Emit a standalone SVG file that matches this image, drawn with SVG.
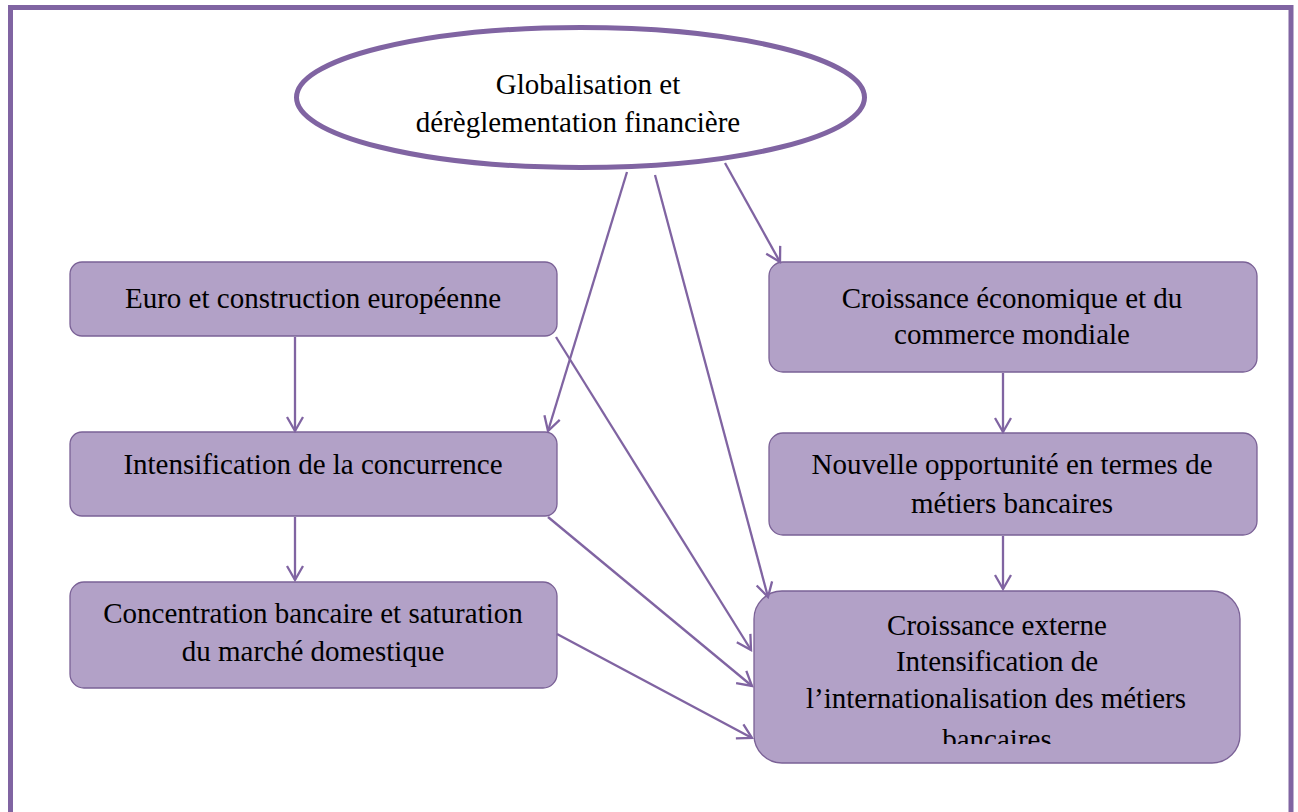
<svg xmlns="http://www.w3.org/2000/svg" width="1298" height="812" viewBox="0 0 1298 812">
<style>
.box{fill:#b2a1c7;stroke:#7a6196;stroke-width:1.3}
.t{font-family:'Liberation Serif','Times New Roman',Tinos,'DejaVu Serif',serif;font-size:29px;fill:#000;text-anchor:middle}
.c{fill:none;stroke:#8064a2;stroke-width:2.3}
</style>
<defs>
<marker id="ah" markerUnits="userSpaceOnUse" markerWidth="20" markerHeight="20" viewBox="-16 -10 20 20" refX="0" refY="0" orient="auto" overflow="visible">
<path d="M-14,-8 L0,0 L-14,8" fill="none" stroke="#8064a2" stroke-width="2.3"/>
</marker>
<clipPath id="clipE"><rect x="754" y="591" width="486" height="153"/></clipPath>
</defs>
<rect width="1298" height="812" fill="#fff"/>
<path d="M10.5,820 V7.5 H1291 V820" fill="none" stroke="#8064a2" stroke-width="5"/>
<g id="n-global">
<ellipse cx="580.5" cy="97.5" rx="284" ry="70" fill="#fff" stroke="#8064a2" stroke-width="5"/>
<text class="t" x="588" y="94" font-family="Liberation Serif, serif">Globalisation et</text>
<text class="t" x="578" y="132" font-family="Liberation Serif, serif">dérèglementation financière</text>
</g>
<g id="n-euro">
<rect class="box" x="70" y="262" width="487" height="74" rx="12"/>
<text class="t" x="313" y="308">Euro et construction européenne</text>
</g>
<g id="n-intens">
<rect class="box" x="70" y="432" width="487" height="84" rx="12"/>
<text class="t" x="313" y="474">Intensification de la concurrence</text>
</g>
<g id="n-concent">
<rect class="box" x="70" y="582" width="487" height="106" rx="14"/>
<text class="t" x="313" y="623">Concentration bancaire et saturation</text>
<text class="t" x="313" y="661">du marché domestique</text>
</g>
<g id="n-croiss-eco">
<rect class="box" x="769" y="262" width="488" height="110" rx="14"/>
<text class="t" x="1012" y="308">Croissance économique et du</text>
<text class="t" x="1012" y="344">commerce mondiale</text>
</g>
<g id="n-nouvelle">
<rect class="box" x="769" y="433" width="488" height="102" rx="14"/>
<text class="t" x="1012" y="474">Nouvelle opportunité en termes de</text>
<text class="t" x="1012" y="513">métiers bancaires</text>
</g>
<g id="n-externe">
<rect class="box" x="754" y="591" width="486" height="172" rx="28"/>
<g clip-path="url(#clipE)">
<text class="t" x="997" y="635">Croissance externe</text>
<text class="t" x="997" y="671">Intensification de</text>
<text class="t" x="996" y="708">l’internationalisation des métiers</text>
<text class="t" x="997" y="749">bancaires</text>
</g>
</g>
<g id="connectors">
<line class="c" x1="627" y1="172" x2="548" y2="431" marker-end="url(#ah)"/>
<line class="c" x1="655" y1="175" x2="768" y2="597" marker-end="url(#ah)"/>
<line class="c" x1="725" y1="163" x2="780" y2="262" marker-end="url(#ah)"/>
<line class="c" x1="556" y1="337" x2="751" y2="650" marker-end="url(#ah)"/>
<line class="c" x1="548" y1="517" x2="752" y2="686" marker-end="url(#ah)"/>
<line class="c" x1="557" y1="634" x2="752" y2="738" marker-end="url(#ah)"/>
<line class="c" x1="295" y1="337" x2="295" y2="431" marker-end="url(#ah)"/>
<line class="c" x1="295" y1="517" x2="295" y2="580" marker-end="url(#ah)"/>
<line class="c" x1="1003" y1="373" x2="1003" y2="432" marker-end="url(#ah)"/>
<line class="c" x1="1003" y1="536" x2="1003" y2="589" marker-end="url(#ah)"/>
</g>
</svg>
